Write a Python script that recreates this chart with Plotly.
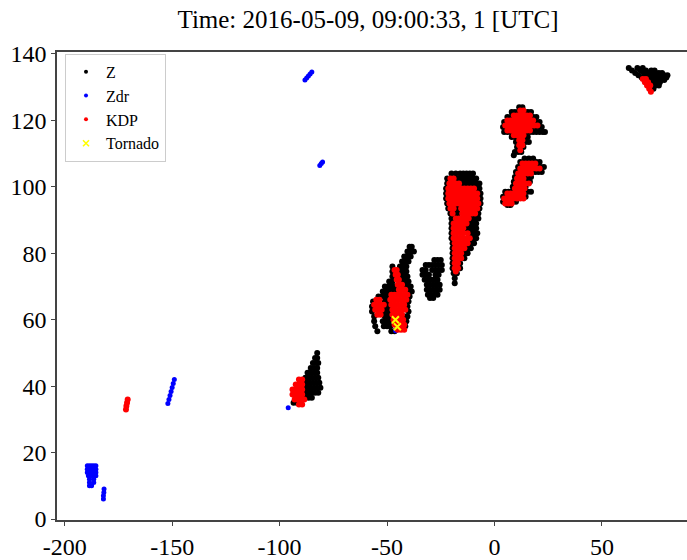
import plotly.graph_objects as go

# ---------------- data (x [km], y [km]) ----------------
# Each row: (y, [x values...])
z_rows_a = [
    (50.0, [-82.5]),
    (48.5, [-83.5, -82.5]),
    (47.0, [-84.5, -83.0, -82.0]),
    (45.5, [-85.5, -84.0, -82.5]),
    (44.0, [-87.0, -85.5, -84.0, -82.5]),
    (42.5, [-88.0, -86.5, -85.0, -83.5, -82.0]),
    (41.0, [-89.0, -87.5, -86.0, -84.5, -83.0, -81.5]),
    (39.5, [-90.0, -88.5, -87.0, -85.5, -84.0, -82.5, -81.0]),
    (38.0, [-91.0, -89.5, -88.0, -86.5, -85.0, -83.5, -82.0]),
    (36.5, [-92.5, -91.0, -89.5, -88.0, -86.5, -85.0]),
    (35.0, [-93.5, -92.0, -90.5]),
]
z_rows_b = [
    (124.0, [11.5, 13.0]),
    (122.5, [8.0, 9.5, 11.0, 12.5, 14.0, 15.5, 17.0]),
    (121.0, [6.0, 7.5, 9.0, 10.5, 12.0, 13.5, 15.0, 16.5, 18.0, 19.5]),
    (119.5, [4.5, 6.0, 7.5, 9.0, 10.5, 12.0, 13.5, 15.0, 16.5, 18.0, 19.5, 21.0]),
    (118.0, [4.0, 5.5, 7.0, 8.5, 10.0, 11.5, 13.0, 14.5, 16.0, 17.5, 19.0, 20.5, 22.0]),
    (116.5, [4.5, 6.0, 7.5, 9.0, 10.5, 12.0, 13.5, 15.0, 16.5, 18.0, 19.5, 21.0, 22.5, 23.5]),
    (115.0, [8.0, 9.5, 11.0, 12.5, 14.0, 15.5]),
    (113.5, [10.0, 11.5, 13.0, 14.5, 16.0]),
    (112.0, [10.5, 12.0, 13.5]),
    (110.5, [9.5, 11.0, 12.5]),
    (109.5, [9.0]),
]
z_rows_c = [
    (108.5, [14.0, 16.0, 18.0]),
    (107.5, [12.0, 13.5, 15.0, 16.5, 18.0, 19.5, 21.0]),
    (106.0, [11.0, 12.5, 14.0, 15.5, 17.0, 18.5, 20.0, 21.5, 23.0]),
    (104.5, [10.0, 11.5, 13.0, 14.5, 16.0, 17.5, 19.0, 20.5, 22.0]),
    (103.0, [9.5, 11.0, 12.5, 14.0, 15.5, 17.0]),
    (101.5, [9.0, 10.5, 12.0, 13.5, 15.0, 16.5]),
    (100.0, [8.5, 10.0, 11.5, 13.0, 14.5]),
    (98.5, [5.0, 6.5, 8.0, 9.5, 11.0, 12.5, 14.0, 15.5, 17.0]),
    (97.0, [4.0, 5.5, 7.0, 8.5, 10.0, 11.5, 13.0, 14.5]),
    (95.5, [4.0, 5.5, 7.0, 8.5, 10.0]),
    (94.5, [6.0, 7.5]),
]
z_rows_d = [
    (104.0, [-20.0, -18.0, -16.0, -14.5, -13.0, -11.5, -10.0]),
    (102.5, [-22.0, -20.5, -17.5, -16.0, -14.5, -13.0, -11.5, -10.0, -8.5]),
    (101.0, [-22.0, -14.5, -13.0, -11.5, -10.0, -8.5, -7.0]),
    (99.5, [-22.5, -8.0, -7.0]),
    (98.0, [-22.5, -6.5]),
    (96.5, [-22.5, -6.5]),
    (95.0, [-22.0, -6.5]),
    (93.5, [-21.5, -18.0, -17.0, -7.0]),
    (92.0, [-20.5, -18.5, -17.0, -7.5]),
    (90.5, [-20.0, -19.0, -10.5, -9.0, -7.5]),
    (89.0, [-20.0, -11.5, -10.0, -8.5]),
    (87.5, [-20.0, -13.0, -11.5, -10.0, -8.5]),
    (86.0, [-20.0, -11.0, -9.5, -8.0]),
    (84.5, [-20.0, -10.0, -8.5]),
    (83.0, [-19.5, -11.0, -9.5]),
    (81.5, [-19.5, -12.5, -11.0]),
    (80.0, [-19.5, -14.0, -12.5]),
    (78.5, [-19.5, -14.0]),
    (77.0, [-19.5, -16.0]),
    (75.5, [-19.5, -16.0]),
    (74.0, [-19.0, -17.5]),
    (72.5, [-18.5]),
    (71.0, [-18.5]),
]
z_rows_e = [
    (78.0, [-28.0, -26.5, -25.0]),
    (76.5, [-32.0, -30.5, -29.0, -27.5, -26.0, -24.5]),
    (75.0, [-33.5, -32.0, -29.0, -27.5, -26.0, -24.5]),
    (73.5, [-33.5, -32.0, -30.5, -27.5, -26.0]),
    (72.0, [-32.5, -31.0, -29.5, -28.0, -26.5]),
    (70.5, [-31.5, -30.0, -28.5, -27.0, -25.5]),
    (69.0, [-31.5, -30.0, -28.5, -27.0, -25.5]),
    (67.5, [-31.0, -29.5, -28.0, -26.5]),
    (66.5, [-30.0, -28.5]),
]
z_rows_f = [
    (82.0, [-39.5, -38.5]),
    (80.5, [-40.5, -39.0, -37.5]),
    (79.0, [-42.0, -40.5, -39.0]),
    (77.5, [-43.0, -41.5, -40.0]),
    (76.0, [-47.5, -44.0, -42.5, -41.0]),
    (74.5, [-47.5, -44.0, -42.5, -41.0]),
    (73.0, [-47.5, -43.5, -42.0, -40.5]),
    (71.5, [-49.0, -47.5, -43.0, -41.5, -40.0]),
    (70.0, [-51.0, -49.5, -48.0, -46.5, -42.0, -40.5, -39.0]),
    (68.5, [-52.0, -50.5, -49.0, -47.5, -46.0, -40.0, -38.5]),
    (67.0, [-54.0, -52.5, -51.0, -49.5, -39.5]),
    (65.5, [-56.5, -51.0, -50.0, -40.0]),
    (64.0, [-57.0, -50.5, -49.5, -40.5]),
    (62.5, [-57.0, -51.0, -49.5, -40.0]),
    (61.0, [-56.0, -51.0, -49.5, -48.5, -41.5, -40.5]),
    (59.5, [-56.0, -52.0, -50.5, -49.0, -41.0]),
    (58.0, [-55.5, -51.5, -50.0, -48.5, -41.5]),
    (56.5, [-54.5, -48.0, -46.5]),
]
z_rows_g = [
    (135.8, [62.5, 66.5, 69.0]),
    (135.0, [64.0, 68.0, 70.5, 73.0, 74.5]),
    (134.3, [65.5, 69.5, 72.0, 73.5, 75.0, 76.5, 78.0]),
    (133.6, [67.0, 71.0, 73.0, 74.5, 76.0, 77.5, 79.0, 80.5]),
    (132.9, [68.5, 72.5, 74.0, 75.5, 77.0, 78.5, 80.0]),
    (132.2, [70.0, 71.5, 73.0, 74.5, 76.0, 77.5, 79.0]),
    (131.5, [72.0, 74.0, 75.5, 77.0]),
    (130.5, [73.5, 75.0, 76.5]),
    (129.5, [74.0]),
]

zdr_rows = [
    (134.6, [-85.0]), (134.0, [-85.8]), (133.4, [-86.6]), (132.8, [-87.4]), (132.2, [-88.2]),
    (107.5, [-80.0]), (107.0, [-80.6]), (106.4, [-81.3]),
    (42.0, [-149.0]), (40.8, [-149.5]), (39.6, [-150.0]), (38.4, [-150.5]),
    (37.2, [-151.0]), (36.0, [-151.5]), (34.8, [-152.0]),
    (16.0, [-189.5, -188.5, -187.5, -186.5, -185.5]),
    (15.0, [-189.5, -188.5, -187.5, -186.5, -185.5]),
    (14.0, [-189.5, -188.5, -187.5, -186.5, -185.5]),
    (13.0, [-189.0, -188.0, -186.5, -185.5]),
    (12.0, [-188.5, -186.5]),
    (11.0, [-188.5, -186.5]),
    (10.0, [-188.5, -187.5]),
    (9.0, [-181.7]), (8.0, [-181.8]), (7.0, [-182.0]), (6.0, [-182.0]),
    (33.5, [-96.0]),
    (56.7, [-46.0]),
]

kdp_rows_a = [
    (42.0, [-91.0, -89.5]),
    (40.5, [-92.5, -91.0, -89.5]),
    (39.0, [-94.0, -92.5, -91.0, -89.5]),
    (37.5, [-94.0, -92.5, -91.0, -89.5]),
    (36.0, [-93.0, -91.5, -90.0, -88.5]),
    (34.5, [-91.0, -89.5]),
]
kdp_rows_b = [
    (123.0, [12.0, 13.5]),
    (121.5, [9.0, 10.5, 12.0, 13.5, 15.0, 16.5]),
    (120.0, [6.0, 7.5, 9.0, 10.5, 12.0, 13.5, 15.0, 16.5, 18.0]),
    (118.5, [5.0, 6.5, 8.0, 9.5, 11.0, 12.5, 14.0, 15.5, 17.0, 18.5, 20.0]),
    (117.0, [6.0, 7.5, 9.0, 10.5, 12.0, 13.5, 15.0, 16.5]),
    (115.5, [9.0, 10.5, 12.0, 13.5]),
    (114.0, [11.5, 13.0]),
    (112.5, [11.5, 13.0]),
    (111.0, [12.0]),
]
kdp_rows_c = [
    (107.0, [13.0, 14.5, 16.0, 17.5, 19.0]),
    (105.5, [12.0, 13.5, 15.0, 16.5, 18.0, 19.5, 21.0]),
    (104.0, [11.0, 12.5, 14.0, 15.5, 17.0]),
    (102.5, [10.5, 12.0, 13.5]),
    (101.0, [10.0, 11.5, 13.0, 14.5, 16.0]),
    (99.5, [9.5, 11.0, 12.5, 14.0]),
    (98.0, [6.0, 7.5, 9.0, 10.5, 12.0, 13.5]),
    (96.5, [4.5, 6.0, 7.5, 9.0, 10.5, 12.0, 13.5]),
    (95.0, [5.0, 6.5, 8.0]),
]
kdp_rows_d = [
    (102.5, [-20.5, -19.0]),
    (101.0, [-21.0, -19.5, -18.0, -16.5]),
    (99.5, [-21.5, -20.0, -18.5, -17.0, -15.5, -14.0, -12.5, -11.0, -9.5]),
    (98.0, [-21.5, -20.0, -18.5, -17.0, -15.5, -14.0, -12.5, -11.0, -9.5, -8.0]),
    (96.5, [-21.5, -20.0, -18.5, -17.0, -15.5, -14.0, -12.5, -11.0, -9.5, -8.0]),
    (95.0, [-21.0, -19.5, -18.0, -16.5, -15.0, -13.5, -12.0, -10.5, -9.0, -7.5]),
    (93.5, [-20.5, -19.0, -15.5, -14.0, -12.5, -11.0, -9.5, -8.0]),
    (92.0, [-19.5, -15.0, -13.5, -12.0, -10.5, -9.0]),
    (90.5, [-18.0, -16.5, -15.0, -13.5, -12.0]),
    (89.0, [-19.0, -17.5, -16.0, -14.5, -13.0]),
    (87.5, [-19.0, -17.5, -16.0, -14.5]),
    (86.0, [-19.0, -17.5, -16.0, -14.5, -12.5]),
    (84.5, [-19.0, -17.5, -16.0, -14.5, -13.0, -11.5]),
    (83.0, [-18.5, -17.0, -15.5, -14.0, -12.5]),
    (81.5, [-18.5, -17.0, -15.5, -14.0]),
    (80.0, [-18.5, -17.0, -15.5]),
    (78.5, [-18.5, -17.0, -15.5]),
    (77.0, [-18.5, -17.0]),
    (75.5, [-18.5, -17.0]),
    (74.5, [-18.0]),
]
kdp_rows_f = [
    (75.0, [-46.5, -45.5]),
    (73.5, [-46.0, -45.0]),
    (72.0, [-45.5, -44.5]),
    (70.5, [-45.0, -44.0, -43.0]),
    (69.0, [-44.5, -43.0, -41.5]),
    (67.5, [-48.0, -46.5, -45.0, -43.5, -42.0, -40.5]),
    (66.0, [-55.0, -53.5, -48.5, -47.0, -45.5, -44.0, -42.5, -41.0]),
    (64.5, [-56.0, -54.5, -53.0, -51.5, -48.0, -46.5, -45.0, -43.5, -42.0]),
    (63.0, [-55.5, -54.0, -52.5, -47.5, -46.0, -44.5, -43.0, -41.5]),
    (61.5, [-54.5, -53.0, -47.5, -46.0, -44.5, -43.0]),
    (60.0, [-47.0, -45.5, -44.0, -42.5]),
    (58.5, [-46.5, -45.0, -43.5, -42.0]),
    (57.0, [-45.0, -43.5, -42.0]),
]
kdp_rows_g = [
    (132.5, [69.0, 70.5]),
    (131.5, [70.0, 71.5]),
    (130.5, [71.0, 72.5]),
    (129.5, [72.0]),
    (128.6, [72.8]),
]
kdp_rows_s = [
    (36.0, [-170.7]), (35.0, [-171.0]), (34.0, [-171.3]), (33.0, [-171.5]),
]

tornado_x = [-46.1, -45.2]
tornado_y = [60.0, 57.9]

x_ticks = [-200, -150, -100, -50, 0, 50]
y_ticks = [0, 20, 40, 60, 80, 100, 120, 140]
title_text = "Time: 2016-05-09, 09:00:33, 1 [UTC]"


def flatten(*groups):
    xs, ys = [], []
    for rows in groups:
        for y, row in rows:
            for x in row:
                xs.append(x)
                ys.append(y)
    return xs, ys


z_x, z_y = flatten(z_rows_a, z_rows_b, z_rows_c, z_rows_d, z_rows_e, z_rows_f, z_rows_g)
zdr_x, zdr_y = flatten(zdr_rows)
kdp_x, kdp_y = flatten(kdp_rows_a, kdp_rows_b, kdp_rows_c, kdp_rows_d, kdp_rows_f,
                       kdp_rows_g, kdp_rows_s)

FONT = "Liberation Serif, Times New Roman, serif"

fig = go.Figure()
fig.add_trace(go.Scatter(x=z_x, y=z_y, mode="markers", name="Z", showlegend=False,
                         marker=dict(color="#000000", size=6, line=dict(width=0))))
fig.add_trace(go.Scatter(x=zdr_x, y=zdr_y, mode="markers", name="Zdr", showlegend=False,
                         marker=dict(color="#0000ff", size=5, line=dict(width=0))))
fig.add_trace(go.Scatter(x=kdp_x, y=kdp_y, mode="markers", name="KDP", showlegend=False,
                         marker=dict(color="#ff0000", size=6, line=dict(width=0))))
fig.add_trace(go.Scatter(x=tornado_x, y=tornado_y, mode="markers", name="Tornado", showlegend=False,
                         marker=dict(color="#ffff00", size=7, symbol="x-thin",
                                     line=dict(width=2, color="#ffff00"))))

# legend entries (small markers as in the reference)
leg = [("Z", "#000000", "circle"), ("Zdr", "#0000ff", "circle"),
       ("KDP", "#ff0000", "circle"), ("Tornado", "#ffff00", "x-thin")]
for nm, col, sym in leg:
    fig.add_trace(go.Scatter(x=[None], y=[None], mode="markers", name=nm,
                             marker=dict(color=col, size=4 if sym == "circle" else 6, symbol=sym,
                                         line=dict(width=1.5 if sym != "circle" else 0, color=col))))

fig.update_layout(
    width=687, height=560,
    margin=dict(l=57, r=0, t=52, b=36),
    plot_bgcolor="white", paper_bgcolor="white",
    font=dict(family=FONT, color="black"),
    title=dict(text=title_text, x=368 / 687, xanchor="center", y=1 - 19 / 560, yanchor="middle",
               font=dict(family=FONT, size=25, color="black")),
    showlegend=True,
    legend=dict(x=0.0127, y=0.996, xanchor="left", yanchor="top",
                bordercolor="#cccccc", borderwidth=1, bgcolor="rgba(255,255,255,0.8)",
                font=dict(family=FONT, size=16, color="black"),
                tracegroupgap=0, itemsizing="trace"),
)
fig.update_xaxes(range=[-203.6, 89.6], tickvals=x_ticks, ticktext=[str(v) for v in x_ticks],
                 showgrid=False, zeroline=False, showline=True, linecolor="#444444", linewidth=1.5,
                 mirror=True, ticks="outside", ticklen=4, tickcolor="#444444",
                 tickfont=dict(family=FONT, size=24, color="black"))
fig.update_yaxes(range=[-0.3, 140.6], tickvals=y_ticks, ticktext=[str(v) for v in y_ticks],
                 showgrid=False, zeroline=False, showline=True, linecolor="#444444", linewidth=1.5,
                 mirror=False, ticks="outside", ticklen=4, tickcolor="#444444",
                 tickfont=dict(family=FONT, size=24, color="black"))

fig.write_html("out.html", config={"displayModeBar": False},
               post_script="document.body.style.margin='0';document.body.style.overflow='hidden';")
